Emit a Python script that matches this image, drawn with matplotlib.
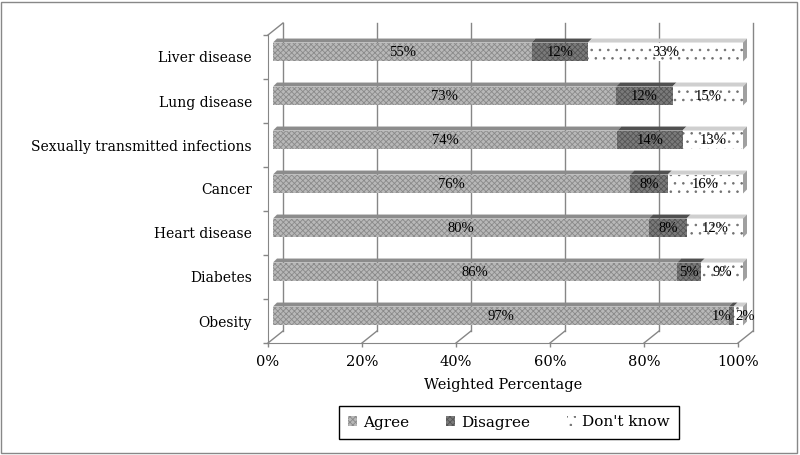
import numpy as np
import matplotlib
matplotlib.use('Agg')
import matplotlib.pyplot as plt
from matplotlib import transforms
from matplotlib.patches import Polygon, Rectangle, Patch

# data (bottom to top as drawn)
categories = ['Obesity', 'Diabetes', 'Heart disease', 'Cancer',
              'Sexually transmitted infections', 'Lung disease', 'Liver disease']
agree = [97, 86, 80, 76, 74, 73, 55]
disagree = [1, 5, 8, 8, 14, 12, 12]
dont_know = [2, 9, 12, 16, 13, 15, 33]
series_names = ['Agree', 'Disagree', "Don't know"]
xticks = [0, 20, 40, 60, 80, 100]

# styles for each series: front face, hatch colour, hatch, top face
face_cols = ['#b8b8b8', '#7a7a7a', '#ffffff']
hatch_cols = ['#8a8a8a', '#555555', '#707070']
hatches = ['xxxxxx', 'xxxxxx', '..']
top_cols = ['#8c8c8c', '#505050', '#cfcfcf']

plt.rcParams['hatch.linewidth'] = 0.6
serif = 'DejaVu Serif'

W, H = 800, 455
fig = plt.figure(figsize=(8, 4.55), dpi=100)
ax = fig.add_axes([268 / W, (H - 343) / H, 470 / W, 308 / H])
ax.set_xlim(0, 100)
ax.set_ylim(-0.5, 6.5)
ax.set_facecolor('none')

grid_col = '#868686'
wall_dx, wall_dy = 15, 12   # depth of the back wall in pixels
bar_dx, bar_dy = 5, 5       # bars sit a little behind the front plane
dep = 4                     # bar depth in pixels
bar_h = 0.43

wall_tr = transforms.offset_copy(ax.transData, fig, x=wall_dx, y=wall_dy, units='dots')
bar_tr = transforms.offset_copy(ax.transData, fig, x=bar_dx, y=bar_dy, units='dots')
ident = transforms.IdentityTransform()

# back wall gridlines
for v in xticks:
    ax.plot([v, v], [-0.5, 6.5], color=grid_col, lw=1, transform=wall_tr,
            clip_on=False, zorder=0)

# floor and left wall diagonals
def disp(x, y, dx=0, dy=0):
    p = ax.transData.transform((x, y))
    return p[0] + dx, p[1] + dy

for v in xticks:
    x0, y0 = disp(v, -0.5)
    ax.plot([x0, x0 + wall_dx], [y0, y0 + wall_dy], color=grid_col, lw=1,
            transform=ident, clip_on=False, zorder=0)
x0, y0 = disp(0, 6.5)
ax.plot([x0, x0 + wall_dx], [y0, y0 + wall_dy], color=grid_col, lw=1,
        transform=ident, clip_on=False, zorder=0)

# bars
values = np.array([agree, disagree, dont_know], dtype=float)
totals = values.sum(axis=0)
shares = values / totals * 100
y = np.arange(len(categories))
left = np.zeros(len(categories))
for i in range(3):
    ax.barh(y, shares[i], height=bar_h, left=left, color=face_cols[i],
            edgecolor=hatch_cols[i], linewidth=0, hatch=hatches[i],
            transform=bar_tr, clip_on=False, zorder=3)
    for j in range(len(categories)):
        xa, yt = disp(left[j], y[j] + bar_h / 2, bar_dx, bar_dy)
        xb, _ = disp(left[j] + shares[i][j], y[j] + bar_h / 2, bar_dx, bar_dy)
        top = Polygon([(xa, yt), (xb, yt), (xb + dep, yt + dep), (xa + dep, yt + dep)],
                      closed=True, transform=ident, facecolor=top_cols[i],
                      edgecolor='none', clip_on=False, zorder=3)
        ax.add_patch(top)
        # narrow segments: keep the two small labels side by side
        xl, ha = left[j] + shares[i][j] / 2, 'center'
        if shares[i][j] < 4:
            if i == 2:
                xl, ha = left[j] + 0.4, 'left'
            else:
                ha = 'right'
        ax.text(xl, y[j], '%d%%' % values[i][j],
                transform=bar_tr, ha=ha, va='center', fontsize=10.5,
                family='Liberation Serif', color='black', zorder=5)
    left = left + shares[i]

# right side faces of bars
for j in range(len(categories)):
    xr, yb = disp(100, y[j] - bar_h / 2, bar_dx, bar_dy)
    _, yt = disp(100, y[j] + bar_h / 2, bar_dx, bar_dy)
    side = Polygon([(xr, yb), (xr, yt), (xr + dep, yt + dep), (xr + dep, yb + dep)],
                   closed=True, transform=ident, facecolor='#a0a0a0',
                   edgecolor='none', clip_on=False, zorder=3)
    ax.add_patch(side)

# axes
for s in ['top', 'right']:
    ax.spines[s].set_visible(False)
ax.spines['left'].set_color(grid_col)
ax.spines['bottom'].set_color(grid_col)

ax.set_xticks(xticks)
ax.set_xticklabels(['%d%%' % v for v in xticks], fontsize=10.5, family=serif)
ax.tick_params(axis='x', length=3, width=1, color=grid_col, pad=6)
ax.set_yticks(y)
ax.set_yticklabels(categories, fontsize=10, family=serif)
ax.tick_params(axis='y', which='major', length=0, pad=11.5)
ax.set_yticks(np.arange(-0.5, 7, 1), minor=True)
ax.tick_params(axis='y', which='minor', length=3.6, width=1, color=grid_col)
ax.set_xlabel('Weighted Percentage', fontsize=10.5, family=serif, labelpad=6)

# legend
handles = [Patch(facecolor=face_cols[i], edgecolor=hatch_cols[i], hatch=hatches[i],
                 linewidth=0) for i in range(3)]
leg = fig.legend(handles, series_names, loc='center', ncol=3,
                 bbox_to_anchor=(509 / W, 1 - 422.5 / H), frameon=True,
                 fancybox=False, edgecolor='black', framealpha=1,
                 handlelength=0.6, handleheight=0.6, handletextpad=0.4,
                 columnspacing=2.4, borderpad=0.6,
                 prop={'family': serif, 'size': 11})
leg.get_frame().set_linewidth(1)

# outer frame
fig.patches.append(Rectangle((1 / W, 2 / H), 796 / W, 451 / H, transform=fig.transFigure,
                             fill=False, edgecolor='#888888', lw=1))

fig.savefig('out.png', dpi=100)
